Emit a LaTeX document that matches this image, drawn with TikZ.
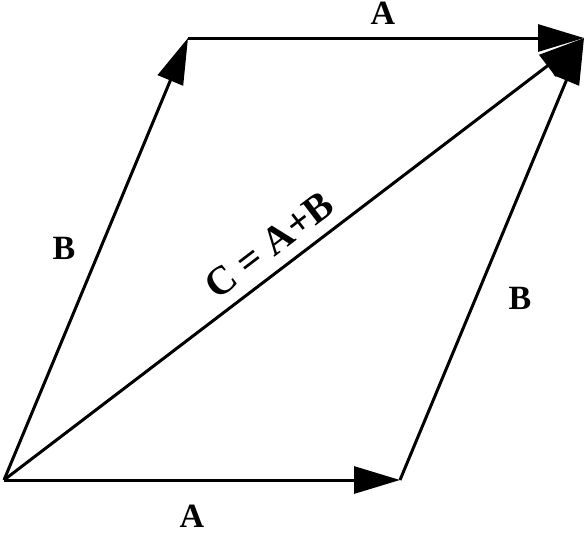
\documentclass[tikz,border=0pt]{standalone}
\usepackage{fontspec}
\setmainfont{Liberation Serif}
\usetikzlibrary{arrows.meta}

\tikzset{
  vec/.style={line width=3pt,-{Triangle[length=46pt,width=27pt]}},
  lbl/.style={font=\fontsize{34}{36}\selectfont\bfseries,inner sep=1pt}
}

\begin{document}
\begin{tikzpicture}[x=1pt,y=-1pt]
  \useasboundingbox (0,0) rectangle (588,533);

  \coordinate (O) at (4,480);
  \coordinate (P) at (400,480);
  \coordinate (Q) at (188,38);
  \coordinate (R) at (584,38);

  \draw[vec] (O) -- (P);
  \draw[vec] (O) -- (Q);
  \draw[vec] (Q) -- (R);
  \draw[vec] (P) -- (R);
  \draw[vec] (O) -- node[lbl,font=\fontsize{40}{44}\selectfont\bfseries,sloped,pos=0.485,above=10pt](sum){C = A+B} (R);

  \node[lbl](atop) at (383,13){A};
  \node[lbl](abot) at (192,516){A};
  \node[lbl](bleft) at (64,248){B};
  \node[lbl](bright) at (520,298){B};
\end{tikzpicture}
\end{document}
